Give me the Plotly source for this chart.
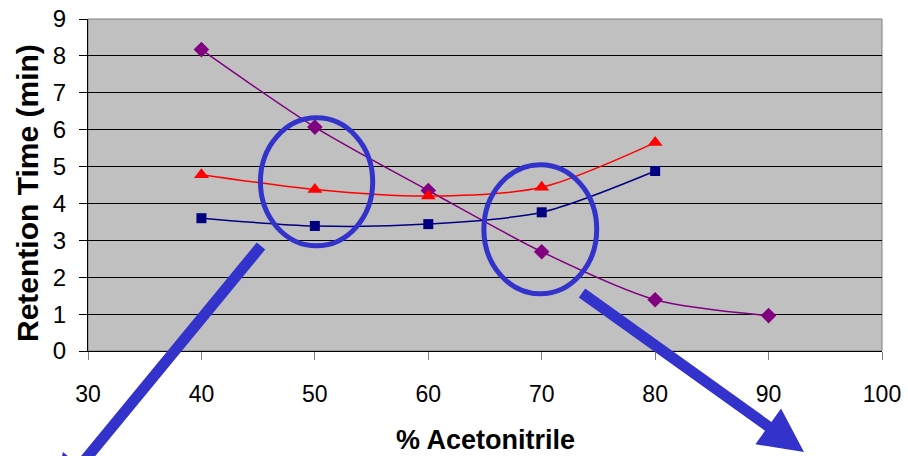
import plotly.graph_objects as go

# Retention time vs. % acetonitrile for three analytes
acetonitrile_a = [40, 50, 60, 70, 80, 90]
retention_a = [8.17, 6.07, 4.35, 2.69, 1.39, 0.96]

acetonitrile_b = [40, 50, 60, 70, 80]
retention_b = [4.78, 4.38, 4.20, 4.44, 5.65]

acetonitrile_c = [40, 50, 60, 70, 80]
retention_c = [3.60, 3.39, 3.44, 3.76, 4.88]

x_ticks = [30, 40, 50, 60, 70, 80, 90, 100]
y_ticks = [0, 1, 2, 3, 4, 5, 6, 7, 8, 9]

# Figure geometry (px)
FIG_W, FIG_H = 908, 456
M_L, M_R, M_T, M_B = 88, 26, 19, 105
PLOT_W = FIG_W - M_L - M_R
PLOT_H = FIG_H - M_T - M_B

HIGHLIGHT = "#3333CC"
FONT = "Liberation Sans, Arial, sans-serif"


def px_to_paper(px, py):
    return (px - M_L) / PLOT_W, (FIG_H - M_B - py) / PLOT_H


def arrow_path(start, tip, shaft_w, head_w, head_len):
    """Filled block arrow from start to tip, given in pixel space."""
    sx, sy = start
    tx, ty = tip
    dx, dy = tx - sx, ty - sy
    length = (dx * dx + dy * dy) ** 0.5
    ux, uy = dx / length, dy / length
    nx, ny = -uy, ux
    bx, by = tx - ux * head_len, ty - uy * head_len
    pts = [
        (sx + nx * shaft_w / 2, sy + ny * shaft_w / 2),
        (bx + nx * shaft_w / 2, by + ny * shaft_w / 2),
        (bx + nx * head_w / 2, by + ny * head_w / 2),
        (tx, ty),
        (bx - nx * head_w / 2, by - ny * head_w / 2),
        (bx - nx * shaft_w / 2, by - ny * shaft_w / 2),
        (sx - nx * shaft_w / 2, sy - ny * shaft_w / 2),
    ]
    coords = [px_to_paper(x, y) for x, y in pts]
    return "M " + " L ".join(f"{x:.5f},{y:.5f}" for x, y in coords) + " Z"


fig = go.Figure()

fig.add_trace(go.Scatter(
    x=acetonitrile_a, y=retention_a, name="Peak 1",
    mode="lines+markers", line=dict(color="#800080", width=1.5, shape="spline", smoothing=0.8),
    marker=dict(symbol="diamond", size=12, color="#800080"),
))
fig.add_trace(go.Scatter(
    x=acetonitrile_b, y=retention_b, name="Peak 2",
    mode="lines+markers", line=dict(color="#FF0000", width=1.5, shape="spline", smoothing=0.8),
    marker=dict(symbol="triangle-up", size=13, color="#FF0000"),
))
fig.add_trace(go.Scatter(
    x=acetonitrile_c, y=retention_c, name="Peak 3",
    mode="lines+markers", line=dict(color="#000080", width=1.5, shape="spline", smoothing=0.8),
    marker=dict(symbol="square", size=10, color="#000080"),
))

shapes = [
    # plot-area frame (top/right edges are grey)
    dict(type="rect", xref="paper", yref="paper", x0=0, y0=0, x1=1, y1=1,
         line=dict(color="#808080", width=1), layer="below"),
    # highlight ellipses
    dict(type="circle", xref="x", yref="y", x0=45.2, x1=55.1, y0=2.85, y1=6.32,
         line=dict(color=HIGHLIGHT, width=5)),
    dict(type="circle", xref="x", yref="y", x0=64.9, x1=74.85, y0=1.55, y1=5.05,
         line=dict(color=HIGHLIGHT, width=5)),
    # arrows pointing out of the highlighted regions
    dict(type="path", xref="paper", yref="paper",
         path=arrow_path((261, 246), (52, 500), 11, 44, 44),
         fillcolor=HIGHLIGHT, line=dict(width=0)),
    dict(type="path", xref="paper", yref="paper",
         path=arrow_path((582, 293), (804, 452), 11, 44, 44),
         fillcolor=HIGHLIGHT, line=dict(width=0)),
]

xt_x, xt_y = px_to_paper(485, 440)
yt_x, yt_y = px_to_paper(27, 193)

annotations = [
    dict(text="<b>% Acetonitrile</b>", xref="paper", yref="paper", x=xt_x, y=xt_y,
         xanchor="center", yanchor="middle", showarrow=False,
         font=dict(family=FONT, size=27, color="black")),
    dict(text="<b>Retention Time (min)</b>", xref="paper", yref="paper", x=yt_x, y=yt_y,
         xanchor="center", yanchor="middle", showarrow=False, textangle=-90,
         font=dict(family=FONT, size=30, color="black")),
]

fig.update_layout(
    width=FIG_W, height=FIG_H,
    margin=dict(l=M_L, r=M_R, t=M_T, b=M_B, autoexpand=False),
    paper_bgcolor="white", plot_bgcolor="#C0C0C0",
    showlegend=False,
    font=dict(family=FONT, color="black"),
    shapes=shapes,
    annotations=annotations,
    xaxis=dict(
        range=[30, 100], tickvals=x_ticks, ticktext=[str(v) for v in x_ticks],
        showgrid=False, zeroline=False,
        showline=True, linecolor="black", linewidth=1,
        ticks="outside", ticklen=8, tickcolor="#808080", tickwidth=1,
        tickfont=dict(family=FONT, size=23, color="black"),
        ticklabelstandoff=14,
    ),
    yaxis=dict(
        range=[0, 9], tickvals=y_ticks, ticktext=[str(v) for v in y_ticks],
        showgrid=True, gridcolor="black", gridwidth=1, zeroline=False,
        showline=True, linecolor="black", linewidth=1,
        ticks="outside", ticklen=8, tickcolor="black", tickwidth=1,
        tickfont=dict(family=FONT, size=24, color="black"),
        ticklabelstandoff=8,
    ),
)

fig.write_html("out.html")
